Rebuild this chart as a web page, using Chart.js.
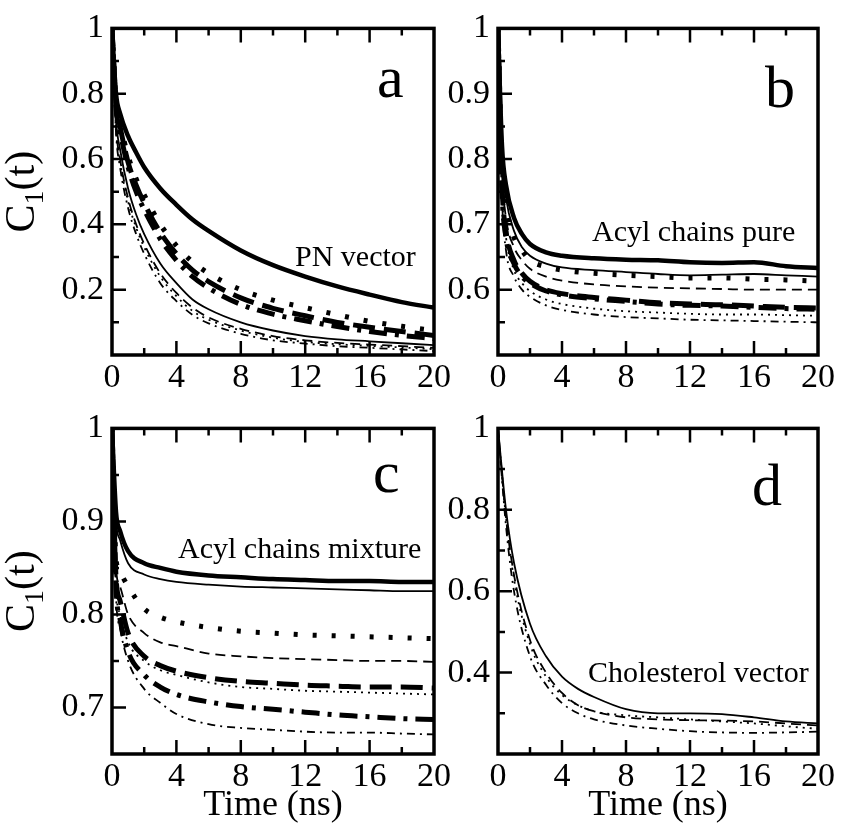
<!DOCTYPE html>
<html>
<head>
<meta charset="utf-8">
<script src="https://cdn.jsdelivr.net/npm/chart.js@4.4.1/dist/chart.umd.min.js"></script>
<style>
  body { margin: 0; background: #fff; width: 841px; height: 827px; position: relative; overflow: hidden; }
  canvas { position: absolute; }
</style>
</head>
<body>
<canvas id="panelA" width="470" height="400" style="left:0;top:0"></canvas>
<canvas id="panelB" width="411" height="400" style="left:430px;top:0"></canvas>
<canvas id="panelC" width="470" height="427" style="left:0;top:400px"></canvas>
<canvas id="panelD" width="411" height="427" style="left:430px;top:400px"></canvas>
<script>
// ---- data ----
const xTicks = [0, 4, 8, 12, 16, 20];
const xMinor = [2, 6, 10, 14, 18];

// a: PN vector
const timeA = [0, 0.25, 0.5, 1, 1.5, 2, 3, 4, 5, 6, 8, 10, 12, 14, 16, 18, 20];
const aThickSolid   = [1, 0.80, 0.74, 0.67, 0.62, 0.575, 0.51, 0.46, 0.415, 0.38, 0.32, 0.275, 0.24, 0.21, 0.185, 0.162, 0.145];
const aThickDot     = [1, 0.78, 0.71, 0.61, 0.54, 0.49, 0.40, 0.335, 0.285, 0.25, 0.20, 0.168, 0.145, 0.123, 0.103, 0.088, 0.075];
const aThickDash    = [1, 0.77, 0.70, 0.59, 0.52, 0.465, 0.375, 0.31, 0.26, 0.225, 0.175, 0.143, 0.12, 0.10, 0.085, 0.072, 0.06];
const aThickDashDot = [1, 0.76, 0.685, 0.575, 0.50, 0.445, 0.355, 0.29, 0.24, 0.205, 0.155, 0.125, 0.105, 0.087, 0.072, 0.06, 0.05];
const aThinSolid    = [1, 0.72, 0.63, 0.51, 0.43, 0.37, 0.28, 0.22, 0.17, 0.14, 0.10, 0.075, 0.058, 0.048, 0.042, 0.036, 0.03];
const aThinDash     = [1, 0.70, 0.60, 0.48, 0.40, 0.34, 0.25, 0.19, 0.145, 0.115, 0.08, 0.058, 0.045, 0.037, 0.032, 0.027, 0.022];
const aThinDot      = [1, 0.69, 0.59, 0.47, 0.39, 0.33, 0.24, 0.18, 0.135, 0.108, 0.075, 0.053, 0.04, 0.033, 0.028, 0.023, 0.018];
const aThinDashDot  = [1, 0.68, 0.575, 0.45, 0.37, 0.31, 0.22, 0.165, 0.123, 0.097, 0.065, 0.045, 0.035, 0.027, 0.022, 0.017, 0.012];
const yTicksA = [0.2, 0.4, 0.6, 0.8, 1];
const yMinorA = [0.1, 0.3, 0.5, 0.7, 0.9];

// b: acyl chains pure
const timeB = [0, 0.25, 0.5, 1, 1.5, 2, 3, 4, 6, 8, 10, 12, 14, 16, 18, 20];
const bThickSolid   = [1, 0.82, 0.76, 0.71, 0.685, 0.67, 0.657, 0.652, 0.648, 0.646, 0.645, 0.642, 0.641, 0.642, 0.636, 0.633];
const bThinSolid    = [1, 0.80, 0.74, 0.69, 0.665, 0.652, 0.64, 0.634, 0.63, 0.627, 0.624, 0.622, 0.623, 0.624, 0.622, 0.62];
const bThickDot     = [1, 0.79, 0.73, 0.68, 0.66, 0.645, 0.635, 0.63, 0.625, 0.622, 0.62, 0.618, 0.618, 0.616, 0.615, 0.613];
const bThinDash     = [1, 0.78, 0.71, 0.665, 0.645, 0.632, 0.62, 0.614, 0.608, 0.605, 0.603, 0.602, 0.601, 0.60, 0.60, 0.60];
const bThickDash    = [1, 0.76, 0.69, 0.645, 0.625, 0.613, 0.60, 0.594, 0.588, 0.584, 0.58, 0.578, 0.577, 0.575, 0.573, 0.572];
const bThickDashDot = [1, 0.75, 0.68, 0.64, 0.62, 0.61, 0.598, 0.592, 0.586, 0.582, 0.578, 0.576, 0.575, 0.573, 0.571, 0.57];
const bThinDot      = [1, 0.75, 0.68, 0.63, 0.61, 0.598, 0.585, 0.578, 0.571, 0.567, 0.565, 0.563, 0.562, 0.562, 0.561, 0.56];
const bThinDashDot  = [1, 0.74, 0.66, 0.62, 0.60, 0.589, 0.576, 0.569, 0.562, 0.558, 0.556, 0.554, 0.553, 0.552, 0.551, 0.55];
const yTicksB = [0.6, 0.7, 0.8, 0.9, 1];
const yMinorB = [0.55, 0.65, 0.75, 0.85, 0.95];

// c: acyl chains mixture
const timeC = [0, 0.25, 0.5, 1, 2, 3, 4, 6, 8, 10, 12, 14, 16, 18, 20];
const cThickSolid   = [1, 0.91, 0.89, 0.868, 0.855, 0.85, 0.846, 0.842, 0.84, 0.838, 0.837, 0.836, 0.836, 0.835, 0.835];
const cThinSolid    = [1, 0.90, 0.88, 0.855, 0.843, 0.838, 0.835, 0.832, 0.83, 0.829, 0.828, 0.827, 0.826, 0.825, 0.825];
const cThickDot     = [1, 0.86, 0.845, 0.83, 0.806, 0.797, 0.792, 0.786, 0.782, 0.78, 0.778, 0.777, 0.776, 0.775, 0.774];
const cThinDash     = [1, 0.85, 0.83, 0.80, 0.78, 0.77, 0.766, 0.758, 0.755, 0.753, 0.752, 0.751, 0.75, 0.75, 0.749];
const cThickDash    = [1, 0.84, 0.815, 0.78, 0.755, 0.745, 0.739, 0.732, 0.728, 0.726, 0.724, 0.723, 0.722, 0.722, 0.721];
const cThinDot      = [1, 0.83, 0.80, 0.77, 0.75, 0.74, 0.735, 0.727, 0.722, 0.72, 0.718, 0.717, 0.716, 0.715, 0.714];
const cThickDashDot = [1, 0.83, 0.795, 0.76, 0.735, 0.722, 0.714, 0.706, 0.701, 0.698, 0.695, 0.692, 0.69, 0.688, 0.687];
const cThinDashDot  = [1, 0.82, 0.785, 0.75, 0.72, 0.705, 0.693, 0.682, 0.678, 0.676, 0.674, 0.673, 0.673, 0.672, 0.671];
const yTicksC = [0.7, 0.8, 0.9, 1];
const yMinorC = [0.75, 0.85, 0.95];

// d: cholesterol vector
const timeD = [0, 0.5, 1, 2, 3, 4, 5, 6, 8, 10, 12, 14, 16, 18, 20];
const dThinSolid    = [1, 0.80, 0.67, 0.52, 0.44, 0.39, 0.36, 0.34, 0.31, 0.30, 0.30, 0.298, 0.29, 0.28, 0.275];
const dThinDash     = [1, 0.78, 0.64, 0.48, 0.40, 0.35, 0.32, 0.305, 0.29, 0.285, 0.283, 0.282, 0.28, 0.275, 0.27];
const dThinDot      = [1, 0.78, 0.63, 0.47, 0.39, 0.345, 0.32, 0.305, 0.295, 0.29, 0.285, 0.28, 0.275, 0.268, 0.262];
const dThinDashDot  = [1, 0.76, 0.60, 0.44, 0.37, 0.325, 0.30, 0.285, 0.27, 0.262, 0.256, 0.253, 0.252, 0.253, 0.255];
const yTicksD = [0.4, 0.6, 0.8, 1];
const yMinorD = [0.3, 0.5, 0.7, 0.9];

// line styles
const LINE = {
  thickSolid:   { w: 4.5, dash: [] },
  thinSolid:    { w: 1.8, dash: [] },
  thickDot:     { w: 5,   dash: [4, 15] },
  thickDash:    { w: 5,   dash: [22, 9] },
  thickDashDot: { w: 5,   dash: [18, 8, 4, 8] },
  thinDash:     { w: 1.8, dash: [10, 6] },
  thinDot:      { w: 1.8, dash: [2, 5] },
  thinDashDot:  { w: 1.8, dash: [8, 5, 2, 5] }
};

const FONT = '"Liberation Serif", "Times New Roman", serif';
Chart.defaults.font.family = FONT;
Chart.defaults.color = '#000';

// frame, inward ticks and text labels
const framePlugin = {
  id: 'frame',
  afterDraw(chart, args, o) {
    const { ctx, chartArea: a, scales: { x, y } } = chart;
    ctx.save();
    ctx.strokeStyle = '#000';
    ctx.lineWidth = 2.5;
    ctx.beginPath();
    const xt = (vals, len) => vals.forEach(v => {
      const px = x.getPixelForValue(v);
      ctx.moveTo(px, a.bottom); ctx.lineTo(px, a.bottom - len);
      ctx.moveTo(px, a.top); ctx.lineTo(px, a.top + len);
    });
    const yt = (vals, len) => vals.forEach(v => {
      const py = y.getPixelForValue(v);
      ctx.moveTo(a.left, py); ctx.lineTo(a.left + len, py);
    });
    xt(xTicks.slice(1, -1), 14); xt(xMinor, 7);
    yt(o.yMajor, 14); yt(o.yMinor, 7);
    ctx.stroke();
    ctx.lineWidth = 3.5;
    ctx.strokeRect(a.left, a.top, a.right - a.left, a.bottom - a.top);

    ctx.fillStyle = '#000';
    ctx.textBaseline = 'alphabetic';
    ctx.textAlign = 'left';
    ctx.font = '60px ' + FONT;
    ctx.fillText(o.letter, a.left + o.letterPos[0], a.top + o.letterPos[1]);
    ctx.font = '30px ' + FONT;
    ctx.fillText(o.note, a.left + o.notePos[0], a.top + o.notePos[1]);

    if (o.xTitle) {
      ctx.font = '36px ' + FONT;
      ctx.textAlign = 'center';
      ctx.fillText('Time (ns)', (a.left + a.right) / 2, 415);
    }
    if (o.yTitle) {
      ctx.translate(34, (a.top + a.bottom) / 2);
      ctx.rotate(-Math.PI / 2);
      ctx.textAlign = 'left';
      const big = '42px ' + FONT, small = '28px ' + FONT;
      ctx.font = big; const wC = ctx.measureText('C').width; const wR = ctx.measureText('(t)').width;
      ctx.font = small; const w1 = ctx.measureText('1').width;
      let sx = -(wC + w1 + wR) / 2;
      ctx.font = big; ctx.fillText('C', sx, 0); sx += wC;
      ctx.font = small; ctx.fillText('1', sx, 9); sx += w1;
      ctx.font = big; ctx.fillText('(t)', sx, 0);
    }
    ctx.restore();
  }
};

function makePanel(id, p) {
  const datasets = p.series.map(([vals, style]) => ({
    data: vals.map((v, i) => ({ x: p.time[i], y: v })),
    borderColor: '#000',
    borderWidth: LINE[style].w,
    borderDash: LINE[style].dash,
    borderCapStyle: 'butt',
    pointRadius: 0,
    fill: false,
    cubicInterpolationMode: 'monotone'
  }));
  new Chart(document.getElementById(id), {
    type: 'line',
    data: { datasets },
    options: {
      responsive: false,
      animation: false,
      devicePixelRatio: 1,
      layout: { padding: { left: 0, top: p.top, right: p.right, bottom: 0 } },
      plugins: {
        legend: { display: false },
        tooltip: { enabled: false },
        frame: p.frame
      },
      scales: {
        x: {
          type: 'linear', min: 0, max: 20,
          grid: { display: false, drawTicks: false },
          border: { display: false },
          afterBuildTicks: s => { s.ticks = xTicks.map(v => ({ value: v })); },
          afterFit: s => { s.height = p.xH; },
          ticks: { font: { size: 34 }, color: '#000', padding: 3, maxRotation: 0, autoSkip: false }
        },
        y: {
          min: p.yMin, max: 1,
          grid: { display: false, drawTicks: false },
          border: { display: false },
          afterBuildTicks: s => { s.ticks = p.frame.yMajor.map(v => ({ value: v })); },
          afterFit: s => { s.width = p.yW; },
          ticks: { font: { size: 34 }, color: '#000', padding: 8, callback: v => String(v) }
        }
      }
    },
    plugins: [framePlugin]
  });
}

makePanel('panelA', {
  time: timeA, yMin: 0, top: 24, right: 36, xH: 45, yW: 112,
  series: [[aThickSolid, 'thickSolid'], [aThickDot, 'thickDot'], [aThickDash, 'thickDash'], [aThickDashDot, 'thickDashDot'],
           [aThinSolid, 'thinSolid'], [aThinDash, 'thinDash'], [aThinDot, 'thinDot'], [aThinDashDot, 'thinDashDot']],
  frame: { yMajor: yTicksA, yMinor: yMinorA, letter: 'a', letterPos: [265, 69], note: 'PN vector', notePos: [183, 238], yTitle: true, xTitle: false }
});
makePanel('panelB', {
  time: timeB, yMin: 0.5, top: 24, right: 23, xH: 45, yW: 68,
  series: [[bThickSolid, 'thickSolid'], [bThinSolid, 'thinSolid'], [bThickDot, 'thickDot'], [bThinDash, 'thinDash'],
           [bThickDash, 'thickDash'], [bThickDashDot, 'thickDashDot'], [bThinDot, 'thinDot'], [bThinDashDot, 'thinDashDot']],
  frame: { yMajor: yTicksB, yMinor: yMinorB, letter: 'b', letterPos: [267, 79], note: 'Acyl chains pure', notePos: [94, 213], yTitle: false, xTitle: false }
});
makePanel('panelC', {
  time: timeC, yMin: 0.65, top: 23, right: 36, xH: 73, yW: 112,
  series: [[cThickSolid, 'thickSolid'], [cThinSolid, 'thinSolid'], [cThickDot, 'thickDot'], [cThinDash, 'thinDash'],
           [cThickDash, 'thickDash'], [cThinDot, 'thinDot'], [cThickDashDot, 'thickDashDot'], [cThinDashDot, 'thinDashDot']],
  frame: { yMajor: yTicksC, yMinor: yMinorC, letter: 'c', letterPos: [261, 64], note: 'Acyl chains mixture', notePos: [66, 130], yTitle: true, xTitle: true }
});
makePanel('panelD', {
  time: timeD, yMin: 0.2, top: 23, right: 23, xH: 73, yW: 68,
  series: [[dThinSolid, 'thinSolid'], [dThinDash, 'thinDash'], [dThinDot, 'thinDot'], [dThinDashDot, 'thinDashDot']],
  frame: { yMajor: yTicksD, yMinor: yMinorD, letter: 'd', letterPos: [254, 77], note: 'Cholesterol vector', notePos: [90, 254], yTitle: false, xTitle: true }
});
</script>
</body>
</html>
